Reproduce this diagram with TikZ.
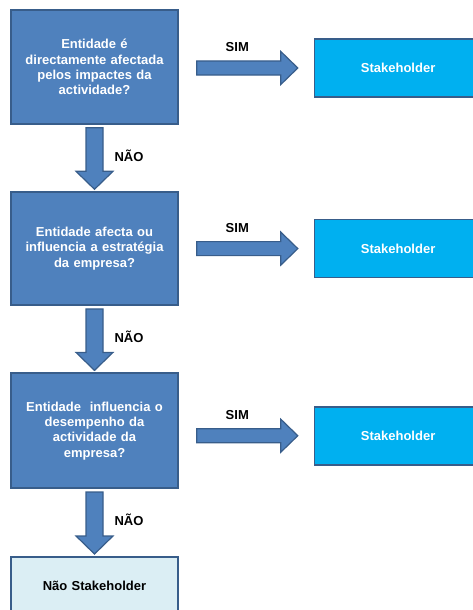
\documentclass[tikz,border=0pt]{standalone}
\usepackage{fontspec}
\setmainfont{Liberation Sans}
\usetikzlibrary{positioning}
\usetikzlibrary{calc}

\definecolor{qblue}{HTML}{4F81BD}
\definecolor{qline}{HTML}{385D8A}
\definecolor{sblue}{HTML}{00B0F0}
\definecolor{nblue}{HTML}{DBEEF4}

\tikzset{
  qbox/.style={rectangle, draw=qline, line width=1.6pt, fill=qblue,
    minimum width=167pt, minimum height=114pt, text width=155pt,
    align=center, text=white, font=\bfseries\fontsize{13}{15.3}\selectfont},
  sbox/.style={qbox, fill=sblue, minimum height=58pt},
  nbox/.style={qbox, fill=nblue, minimum height=58pt, text=black},
  fatarrow/.style={draw=qline, line width=1.2pt, fill=qblue, line join=miter},
  lbl/.style={font=\bfseries\fontsize{13}{15}\selectfont, text=black},
}

% seta larga para a direita (SIM)
\newcommand{\simarrow}[2]{%
  \draw[fatarrow] let \p1=(#1.east), \p2=(#2.west) in
    (\x1+18pt,\y2+7pt) -- (\x2-33pt,\y2+7pt) -- (\x2-33pt,\y2+16.5pt)
    -- (\x2-16pt,\y2) -- (\x2-33pt,\y2-16.5pt) -- (\x2-33pt,\y2-7pt)
    -- (\x1+18pt,\y2-7pt) -- cycle
    (\x1+58.5pt,\y2+20.5pt) node[lbl] {SIM};
}
% seta larga para baixo (NAO)
\newcommand{\naoarrow}[2]{%
  \draw[fatarrow] let \p1=(#1.south), \p2=(#2.north) in
    (\x1-8.5pt,\y1-3pt) -- (\x1+8.5pt,\y1-3pt) -- (\x1+8.5pt,\y2+20pt)
    -- (\x1+18.5pt,\y2+20pt) -- (\x1,\y2+2pt) -- (\x1-18.5pt,\y2+20pt)
    -- (\x1-8.5pt,\y2+20pt) -- cycle
    (\x1+34.5pt,\y1-31pt) node[lbl] {NÃO};
}

\begin{document}
\begin{tikzpicture}[x=1pt,y=1pt]
  \useasboundingbox (0,0) rectangle (473,-610);
  %% perguntas
  \node[qbox] (q1) at (94.5,-67) {Entidade é\\ directamente afectada\\ pelos impactes da\\ actividade?};
  \node[qbox, below=66.5pt of q1, minimum height=113pt] (q2) {Entidade afecta ou\\ influencia a estratégia\\ da empresa?};
  \node[qbox, below=66.5pt of q2, minimum height=115pt] (q3) {Entidade\ \ influencia o\\ desempenho da\\ actividade da\\ empresa?};
  \node[nbox, below=67pt of q3] (nao) {Não Stakeholder};
  %% stakeholders
  \node[sbox, right=135pt of q1, yshift=-1pt] (s1) {Stakeholder};
  \node[sbox, right=135pt of q2] (s2) {Stakeholder};
  \node[sbox, right=135pt of q3, yshift=-5pt] (s3) {Stakeholder};
  % setas
  \simarrow{q1}{s1}
  \simarrow{q2}{s2}
  \simarrow{q3}{s3}
  \naoarrow{q1}{q2}
  \naoarrow{q2}{q3}
  \naoarrow{q3}{nao}
\end{tikzpicture}
\end{document}
